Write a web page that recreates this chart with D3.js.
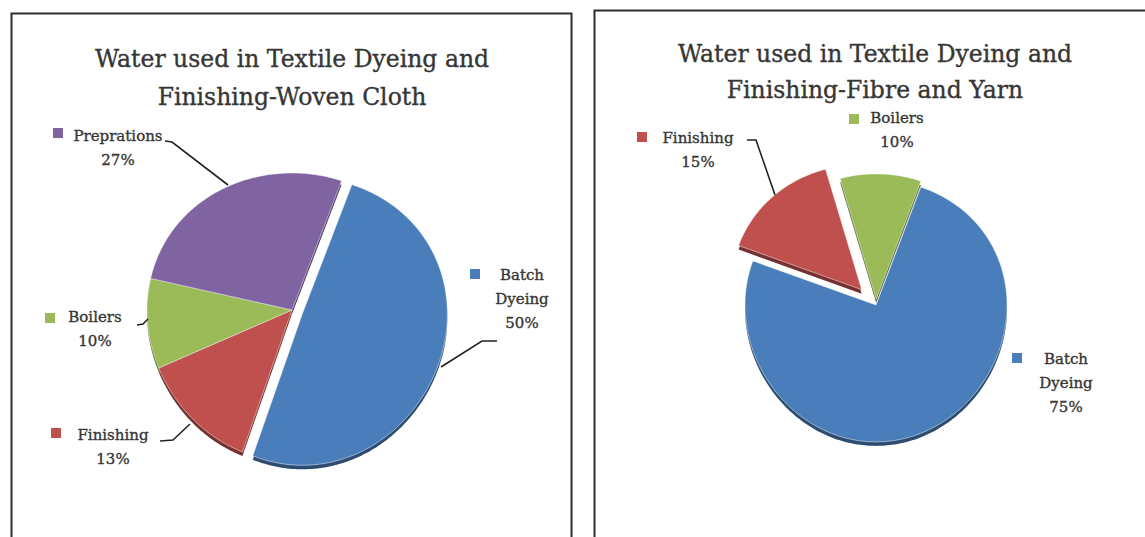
<!DOCTYPE html>
<html>
<head>
<meta charset="utf-8">
<script src="https://cdn.jsdelivr.net/npm/d3@7"></script>
<style>
  html, body { margin: 0; padding: 0; background: #fff; }
  svg { display: block; }
  text { font-family: "DejaVu Serif", "Liberation Serif", serif; fill: #363636; stroke: #363636; stroke-width: 0.35; }
</style>
</head>
<body>
<svg id="chart" width="1145" height="537"></svg>
<script>
// ---------- data ----------
const wovenTitle = ["Water used in Textile Dyeing and", "Finishing-Woven Cloth"];
const wovenCategories = ["Batch Dyeing", "Finishing", "Boilers", "Preprations"];
const wovenValues = [50, 13, 10, 27];

const fibreTitle = ["Water used in Textile Dyeing and", "Finishing-Fibre and Yarn"];
const fibreCategories = ["Batch Dyeing", "Finishing", "Boilers"];
const fibreValues = [75, 15, 10];

const categoryColors = {
  "Batch Dyeing": "#4a7ebb",
  "Finishing": "#c0504d",
  "Boilers": "#9bbb59",
  "Preprations": "#8064a2"
};

// ---------- layout ----------
const svg = d3.select("#chart");

const panels = [
  {
    title: wovenTitle, categories: wovenCategories, values: wovenValues,
    frame: {x: 11.5, y: 13.5, w: 560, h: 540},
    titleX: 292, titleY: [67, 105], titleSize: 23.5,
    cx: 292, cy: 310, r: 145, topScale: 0.945, bottomScale: 1.045, startDeg: 20,
    explode: {"Batch Dyeing": 11},
    labels: {
      "Preprations": {x: 118, y: 141, lines: ["Preprations", "27%"], sq: [53, 128], leader: [[165,141],[172,142],[228,185]]},
      "Boilers": {x: 95, y: 322, lines: ["Boilers", "10%"], sq: [45, 313], leader: [[137,325],[143,324],[148,319]]},
      "Finishing": {x: 113, y: 440, lines: ["Finishing", "13%"], sq: [51, 428], leader: [[160,441],[173,440],[190,424]]},
      "Batch Dyeing": {x: 522, y: 280, lines: ["Batch", "Dyeing", "50%"], sq: [470, 269], leader: [[497,341],[482,341],[441,367]]}
    }
  },
  {
    title: fibreTitle, categories: fibreCategories, values: fibreValues,
    frame: {x: 594.5, y: 10.5, w: 560, h: 540},
    titleX: 875, titleY: [62, 98], titleSize: 23.5,
    cx: 876, cy: 305, r: 131, topScale: 0.955, bottomScale: 1.045, startDeg: 20,
    explode: {"Finishing": 21, "Boilers": 6},
    labels: {
      "Finishing": {x: 698, y: 143, lines: ["Finishing", "15%"], sq: [637, 132], leader: [[747,140],[756,140],[775,195]]},
      "Boilers": {x: 897, y: 123, lines: ["Boilers", "10%"], sq: [849, 114], leader: null},
      "Batch Dyeing": {x: 1066, y: 364, lines: ["Batch", "Dyeing", "75%"], sq: [1012, 353], leader: null}
    }
  }
];

panels.forEach(p => {
  const g = svg.append("g");

  // frame
  g.append("rect")
    .attr("x", p.frame.x).attr("y", p.frame.y)
    .attr("width", p.frame.w).attr("height", p.frame.h)
    .attr("fill", "none").attr("stroke", "#2e2e2e").attr("stroke-width", 2);

  // title
  g.selectAll("text.title").data(p.title).enter().append("text")
    .attr("class", "title")
    .attr("x", p.titleX).attr("y", (d, i) => p.titleY[i])
    .attr("text-anchor", "middle")
    .attr("font-size", p.titleSize)
    .text(d => d);

  // pie (with slight perspective: far half smaller than near half)
  const start = p.startDeg * Math.PI / 180;
  const pie = d3.pie().sort(null).startAngle(start).endAngle(start + 2 * Math.PI);
  const arcs = pie(p.values).map((a, i) => Object.assign(a, {cat: p.categories[i]}));

  const a = (p.topScale + p.bottomScale) / 2;
  const b = (p.bottomScale - p.topScale) / (2 * p.r);
  const project = (x, y) => [x, y * (a + b * y)];

  const slicePath = d => {
    const n = Math.max(8, Math.ceil((d.endAngle - d.startAngle) / (Math.PI / 180)));
    const pts = [[0, 0]];
    for (let i = 0; i <= n; i++) {
      const t = d.startAngle + (d.endAngle - d.startAngle) * i / n;
      pts.push(project(p.r * Math.sin(t), -p.r * Math.cos(t)));
    }
    return d3.line()(pts) + "Z";
  };

  const offset = d => {
    const e = p.explode[d.cat] || 0;
    const mid = (d.startAngle + d.endAngle) / 2;
    return [Math.sin(mid) * e, -Math.cos(mid) * e];
  };

  const pg = g.append("g").attr("transform", `translate(${p.cx},${p.cy})`);

  // depth (3D side)
  pg.selectAll("path.side").data(arcs).enter().append("path")
    .attr("class", "side")
    .attr("transform", d => { const o = offset(d); return `translate(${o[0]},${o[1] + 4})`; })
    .attr("d", slicePath)
    .attr("fill", d => d3.color(categoryColors[d.cat]).darker(1.4));

  // top faces
  pg.selectAll("path.top").data(arcs).enter().append("path")
    .attr("class", "top")
    .attr("transform", d => { const o = offset(d); return `translate(${o[0]},${o[1]})`; })
    .attr("d", slicePath)
    .attr("fill", d => categoryColors[d.cat])
    .attr("stroke", "#ffffff").attr("stroke-opacity", 0.6).attr("stroke-width", 0.8);

  // labels
  arcs.forEach(d => {
    const L = p.labels[d.cat];
    if (!L) return;
    if (L.leader) {
      g.append("path")
        .attr("d", d3.line()(L.leader))
        .attr("fill", "none").attr("stroke", "#222").attr("stroke-width", 1.6);
    }
    g.append("rect")
      .attr("x", L.sq[0]).attr("y", L.sq[1]).attr("width", 10).attr("height", 10)
      .attr("fill", categoryColors[d.cat]);
    L.lines.forEach((t, i) => {
      g.append("text")
        .attr("x", L.x).attr("y", L.y + i * 24)
        .attr("text-anchor", "middle")
        .attr("font-size", 15)
        .text(t);
    });
  });
});
</script>
</body>
</html>
